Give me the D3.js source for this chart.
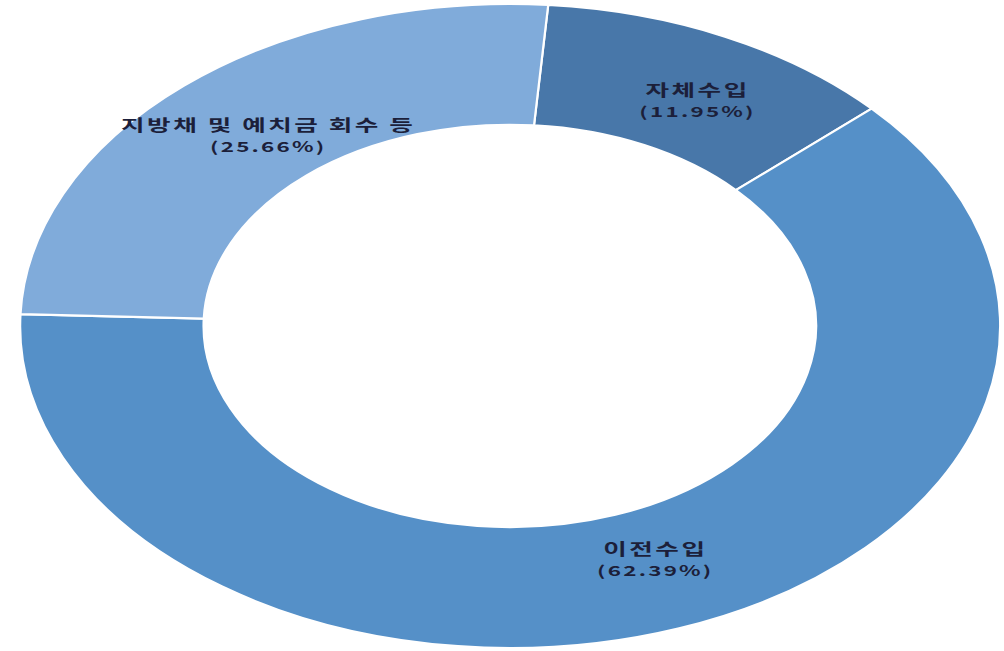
<!DOCTYPE html>
<html>
<head>
<meta charset="utf-8">
<script src="https://cdn.jsdelivr.net/npm/d3@7"></script>
<style>
  html, body { margin: 0; padding: 0; background: #fff; }
  #chart { width: 1004px; height: 651px; }
  .label { font-family: "Noto Sans CJK KR", "Noto Sans", sans-serif; font-weight: bold; fill: #1c1f3a; }
</style>
</head>
<body>
<div id="chart"></div>
<script>
const categories = ["자체수입", "이전수입", "지방채 및 예치금 회수 등"];
const shares = [11.95, 62.39, 25.66];
const colors = ["#4877a9", "#5590c8", "#80abda"];

const width = 1004;
const height = 651;

// the original picture is a round donut stretched sideways
const cx = 510, cy = 326;
const rx = 490, ry = 322;
const startOffset = 4.5 * Math.PI / 180;

// small hand nudges so labels sit where the original put them
const nudge = [[13, 7], [8, -15], [23, 2]];

const svg = d3.select("#chart")
    .append("svg")
    .attr("width", width)
    .attr("height", height);

const data = categories.map((c, i) => ({ name: c, value: shares[i], color: colors[i], i }));

const pie = d3.pie()
    .value(d => d.value)
    .sort(null)
    .startAngle(startOffset)
    .endAngle(startOffset + 2 * Math.PI);

const arc = d3.arc()
    .innerRadius(0.625)
    .outerRadius(1);

const arcs = pie(data);

const ring = svg.append("g")
    .attr("transform", `translate(${cx},${cy}) scale(${rx},${ry})`);

ring.selectAll("path")
    .data(arcs)
    .join("path")
    .attr("d", arc)
    .attr("fill", d => d.data.color)
    .attr("stroke", "#fff")
    .attr("stroke-width", 2.2)
    .attr("vector-effect", "non-scaling-stroke");

const labels = svg.append("g")
    .selectAll("g")
    .data(arcs)
    .join("g")
    .attr("transform", d => {
        const [x, y] = arc.centroid(d);
        const [nx, ny] = nudge[d.data.i];
        return `translate(${cx + x * rx + nx},${cy + y * ry + ny}) scale(1.6,1)`;
    });

labels.append("text")
    .attr("class", "label")
    .attr("text-anchor", "middle")
    .attr("y", -2)
    .attr("font-size", 16)
    .attr("letter-spacing", 1.6)
    .text(d => d.data.name);

labels.append("text")
    .attr("class", "label")
    .attr("text-anchor", "middle")
    .attr("y", 19)
    .attr("font-size", 14)
    .attr("letter-spacing", 1.4)
    .text(d => `(${d.data.value.toFixed(2)}%)`);
</script>
</body>
</html>
